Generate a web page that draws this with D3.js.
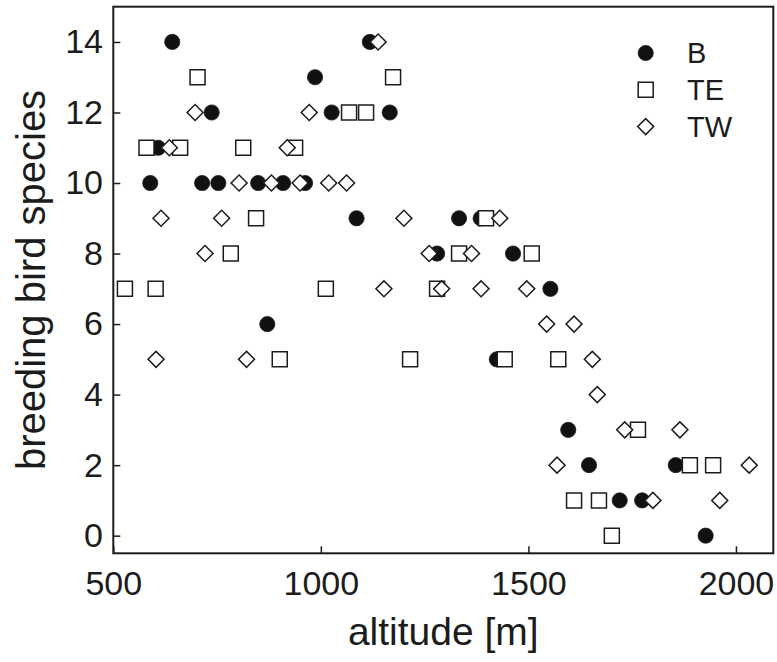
<!DOCTYPE html>
<html>
<head>
<meta charset="utf-8">
<script src="https://cdn.jsdelivr.net/npm/d3@7"></script>
<style>
  body { margin: 0; background: #fff; }
  svg { display: block; font-family: "Liberation Sans", Arial, sans-serif; }
</style>
</head>
<body>
<svg class="chart" width="777" height="662"></svg>
<script>
// series names, in drawing order
const seriesNames = ['B', 'TE', 'TW'];

// altitude [m] and breeding bird species for each series
const altB = [642, 1118, 986, 737, 1026, 1166, 608, 589, 714, 753, 849, 909, 962,
  1086, 1333, 1385, 1280, 1463, 1553, 871, 1424, 1596, 1646, 1855, 1720, 1774, 1927];
const sppB = [14, 14, 13, 12, 12, 12, 11, 10, 10, 10, 10, 10, 10,
  9, 9, 9, 8, 8, 7, 6, 5, 3, 2, 2, 1, 1, 0];

const altTE = [703, 1174, 1068, 1109, 580, 661, 813, 938, 844, 1398, 783, 1333, 1508,
  528, 602, 1012, 1280, 901, 1215, 1443, 1572, 1764, 1889, 1945, 1610, 1670, 1701];
const sppTE = [13, 13, 12, 12, 11, 11, 11, 11, 9, 9, 8, 8, 8,
  7, 7, 7, 7, 5, 5, 5, 5, 3, 2, 2, 1, 1, 0];

const altTW = [1138, 697, 972, 635, 919, 803, 881, 950, 1019, 1062, 615, 761, 1200, 1431,
  721, 1261, 1363, 1152, 1291, 1386, 1496, 1544, 1610, 603, 821, 1654, 1666,
  1732, 1865, 1569, 2032, 1800, 1961];
const sppTW = [14, 12, 12, 11, 11, 10, 10, 10, 10, 10, 9, 9, 9, 9,
  8, 8, 8, 7, 7, 7, 7, 6, 6, 5, 5, 5, 4,
  3, 3, 2, 2, 1, 1];

// tick values
const xTicks = [500, 1000, 1500, 2000];
const yTicks = [0, 2, 4, 6, 8, 10, 12, 14];

const svg = d3.select('.chart');

// plot box
const boxLeft = 113.3, boxRight = 773.3, boxTop = 6.7, boxBottom = 553.3;
const ink = '#1c1c1c';

const x = d3.scaleLinear().domain([500, 2090]).range([boxLeft, boxRight]);
const y = d3.scaleLinear().domain([-0.5, 15]).range([boxBottom, boxTop]);

// symbol generators per series
const shapes = {
  B: d3.symbol().type(d3.symbolCircle).size(Math.PI * 7.6 * 7.6),
  TE: d3.symbol().type(d3.symbolSquare).size(15 * 15),
  TW: d3.symbol().type(d3.symbolSquare).size(11.3 * 11.3)
};
const rot = { B: 0, TE: 0, TW: 45 };

function styleMark(sel, name) {
  sel.attr('d', shapes[name]())
    .attr('fill', name === 'B' ? '#111' : '#fff')
    .attr('stroke', ink)
    .attr('stroke-width', name === 'B' ? 0.8 : 1.5);
}

// axes with inward ticks
const xAxis = d3.axisBottom(x).tickValues(xTicks).tickFormat(d3.format('d'))
  .tickSizeInner(-7).tickSizeOuter(0).tickPadding(17.6);
const yAxis = d3.axisLeft(y).tickValues(yTicks).tickFormat(d3.format('d'))
  .tickSizeInner(-7).tickSizeOuter(0).tickPadding(10.3);

svg.append('g')
  .attr('transform', `translate(0,${boxBottom})`)
  .call(xAxis)
  .call(g => g.select('.domain').remove());

svg.append('g')
  .attr('transform', `translate(${boxLeft},0)`)
  .call(yAxis)
  .call(g => g.select('.domain').remove());

svg.selectAll('.tick line').attr('stroke', ink).attr('stroke-width', 1.5);
svg.selectAll('.tick text')
  .attr('fill', ink)
  .style('font-size', '34px')
  .style('font-family', '"Liberation Sans", Arial, sans-serif');

// points
const series = {
  B: d3.zip(altB, sppB),
  TE: d3.zip(altTE, sppTE),
  TW: d3.zip(altTW, sppTW)
};

seriesNames.forEach(name => {
  svg.append('g')
    .selectAll('path')
    .data(series[name])
    .join('path')
    .attr('transform', d => `translate(${x(d[0])},${y(d[1])}) rotate(${rot[name]})`)
    .call(styleMark, name);
});

// box
svg.append('rect')
  .attr('x', boxLeft).attr('y', boxTop)
  .attr('width', boxRight - boxLeft).attr('height', boxBottom - boxTop)
  .attr('fill', 'none')
  .attr('stroke', ink)
  .attr('stroke-width', 2);

// legend
const legend = svg.append('g');
seriesNames.forEach((name, i) => {
  const ly = 53 + i * 36.8;
  legend.append('path')
    .attr('transform', `translate(645.7,${ly}) rotate(${rot[name]})`)
    .call(styleMark, name);
  legend.append('text')
    .attr('x', 687)
    .attr('y', ly)
    .attr('dy', '0.36em')
    .attr('fill', ink)
    .style('font-size', '29px')
    .text(name);
});

// axis titles
svg.append('text')
  .attr('x', (boxLeft + boxRight) / 2)
  .attr('y', 645)
  .attr('text-anchor', 'middle')
  .attr('fill', ink)
  .style('font-size', '39px')
  .text('altitude [m]');

svg.append('text')
  .attr('transform', `translate(45,${(boxTop + boxBottom) / 2}) rotate(-90)`)
  .attr('text-anchor', 'middle')
  .attr('fill', ink)
  .style('font-size', '40px')
  .text('breeding bird species');
</script>
</body>
</html>
